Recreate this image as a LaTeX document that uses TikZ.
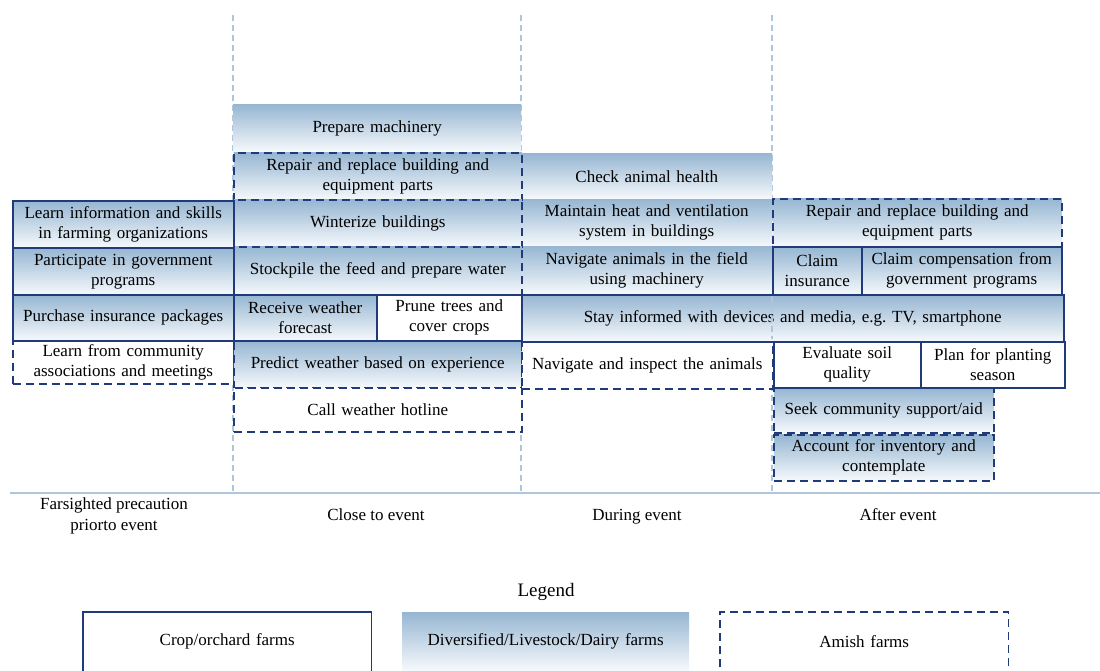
\documentclass[tikz,border=0pt]{standalone}
\usepackage{fontspec}
\setmainfont{Liberation Serif}
\frenchspacing
\definecolor{navy}{RGB}{32,58,122}
\definecolor{gradtop}{RGB}{150,182,210}
\definecolor{gradbot}{RGB}{246,249,252}
\definecolor{guide}{RGB}{176,198,221}
\tikzset{
  base/.style={inner sep=2pt, align=center, font=\fontsize{17}{20}\selectfont},
  cropbox/.style={base, draw=navy, line width=1.5pt, fill=white},
  divbox/.style={base, top color=gradtop, bottom color=gradbot, draw=none},
  cropdiv/.style={base, top color=gradtop, bottom color=gradbot, draw=navy, line width=1.5pt},
  amishbox/.style={base, draw=navy, line width=1.5pt, dash pattern=on 8pt off 5pt, fill=white},
  amishdiv/.style={base, top color=gradtop, bottom color=gradbot, draw=navy, line width=1.5pt, dash pattern=on 8pt off 5pt},
  guideline/.style={draw=guide, line width=1.2pt, dash pattern=on 6pt off 4pt},
  label/.style={align=center, font=\fontsize{17}{21}\selectfont},
  onelabel/.style={label, text height=12pt, text depth=4pt}
}
\newcommand\bx[7]{%
  \pgfmathsetmacro\bw{#4-#2}%
  \pgfmathsetmacro\bh{#5-#3}%
  \pgfmathsetmacro\tw{#4-#2-6}%
  \node[#6, minimum width=\bw pt, minimum height=\bh pt, text width=\tw pt, anchor=north west] (#1) at (#2,#3) {#7};}
\begin{document}
\begin{tikzpicture}[x=1pt,y=-1pt]
\useasboundingbox (0,0) rectangle (1100,670);
% guide lines
\coordinate (g1t) at (233,15); \coordinate (g1b) at (233,492);
\coordinate (g2t) at (521,15); \coordinate (g2b) at (521,492);
\coordinate (g3t) at (772,15); \coordinate (g3b) at (772,492);
\draw[guideline] (g1t) -- (g1b);
\draw[guideline] (g2t) -- (g2b);
\draw[guideline] (g3t) -- (g3b);
\coordinate (axl) at (10,493); \coordinate (axr) at (1100,493);
\draw[guide, line width=1.5pt] (axl) -- (axr);
% no-border and dashed boxes first
\bx{c1}{233}{104}{521}{152}{divbox}{Prepare machinery}
\bx{d1}{521}{153}{772}{199}{divbox}{Check animal health}
\bx{d2}{521}{199}{772}{246}{divbox}{Maintain heat and ventilation\\system in buildings}
\bx{d3}{521}{246}{772}{294}{divbox}{Navigate animals in the field\\using machinery}
\bx{b4}{12}{340}{233}{383}{amishbox}{Learn from community\\associations and meetings}
\bx{c2}{233}{152}{521}{199}{amishdiv}{Repair and replace building and\\equipment parts}
\bx{c3}{233}{199}{521}{246}{amishdiv}{Winterize buildings}
\bx{c4}{233}{246}{521}{294}{amishdiv}{Stockpile the feed and prepare water}
\bx{c7}{233}{340}{521}{387}{amishdiv}{Predict weather based on experience}
\bx{c8}{233}{387}{521}{431}{amishbox}{Call weather hotline}
\bx{d5}{521}{341}{772}{388}{amishbox}{Navigate and inspect the animals}
\bx{e1}{772}{198}{1061}{246}{amishdiv}{Repair and replace building and\\equipment parts}
\bx{e6}{773}{387}{993}{432}{amishdiv}{Seek community support/aid}
\bx{e7}{773}{434}{993}{480}{amishdiv}{Account for inventory and\\contemplate}
% solid boxes
\bx{b1}{12}{200}{233}{247}{cropdiv}{Learn information and skills\\in farming organizations}
\bx{b2}{12}{247}{233}{294}{cropdiv}{Participate in government\\programs}
\bx{b3}{12}{294}{233}{340}{cropdiv}{Purchase insurance packages}
\bx{c5}{233}{294}{376}{340}{cropdiv}{Receive weather\\forecast}
\bx{c6}{376}{294}{521}{340}{cropbox}{Prune trees and\\cover crops}
\bx{d4}{521}{294}{1063}{341}{cropdiv}{Stay informed with devices and media, e.g. TV, smartphone}
\bx{e2}{772}{246}{861}{294}{cropdiv}{Claim\\insurance}
\bx{e3}{861}{246}{1061}{294}{cropdiv}{Claim compensation from\\government programs}
\bx{e4}{773}{341}{920}{387}{cropbox}{Evaluate soil\\quality}
\bx{e5}{920}{341}{1064}{387}{cropbox}{Plan for planting\\season}
% guide line visible through the wide box
\coordinate (g3m1) at (772,296); \coordinate (g3m2) at (772,339);
\draw[guideline] (g3m1) -- (g3m2);
% column labels
\node[label] (l1) at (114,516) {Farsighted precaution\\priorto event};
\node[onelabel] (l2) at (376,516) {Close to event};
\node[onelabel] (l3) at (637,516) {During event};
\node[onelabel] (l4) at (898,516) {After event};
% legend
\node[font=\fontsize{19}{22}\selectfont] (leg) at (546,592) {Legend};
\bx{lg1}{83}{612}{371}{670}{base}{Crop/orchard farms}
\bx{lg2}{402}{612}{689}{670}{divbox}{Diversified/Livestock/Dairy farms}
\bx{lg3}{720}{612}{1008}{670}{base}{Amish farms}
\draw[navy, line width=1.5pt] ([yshift=-10pt]lg1.south west) -- (lg1.north west) -- (lg1.north east) -- ([yshift=-10pt]lg1.south east);
\draw[navy, line width=1.5pt, dash pattern=on 8pt off 5pt] ([yshift=-10pt]lg3.south west) -- (lg3.north west) -- (lg3.north east) -- ([yshift=-10pt]lg3.south east);
\end{tikzpicture}
\end{document}
